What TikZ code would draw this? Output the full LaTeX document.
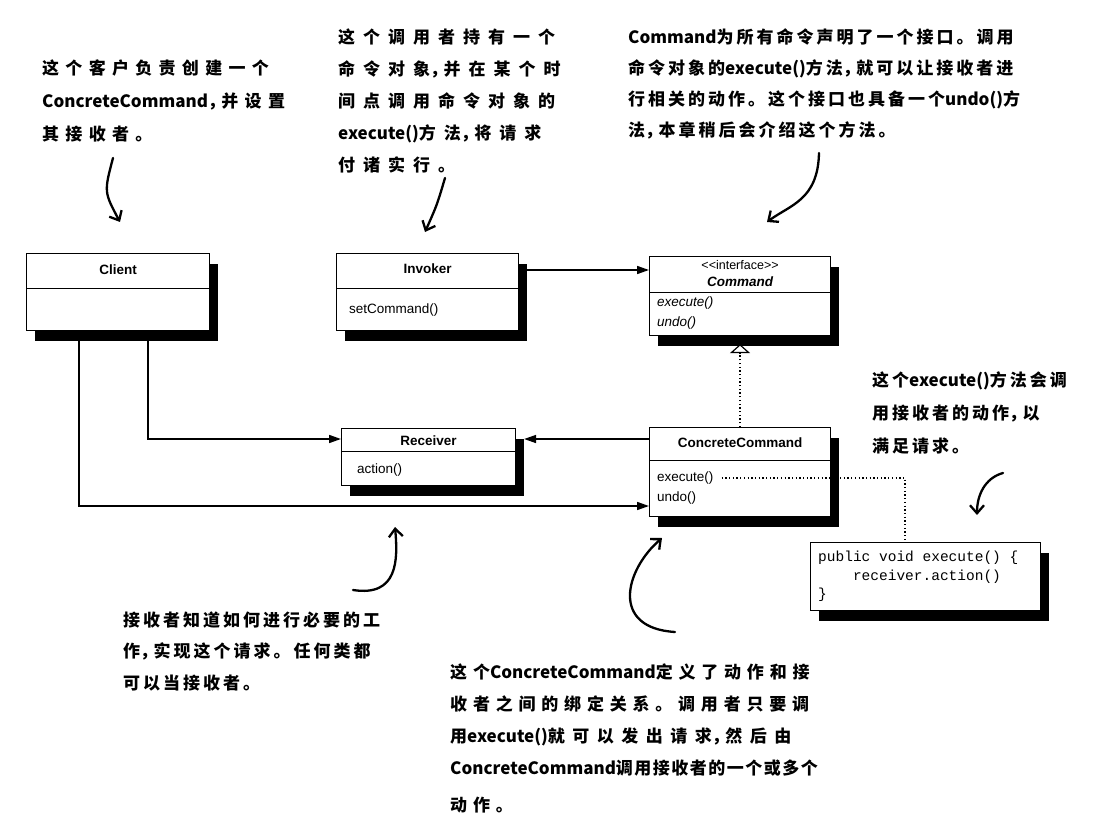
\documentclass[tikz,border=0pt]{standalone}
\usepackage{fontspec}
\newfontfamily\umlf{Liberation Sans}
\newfontfamily\codef{Liberation Mono}
\newfontfamily\cjk{Noto Sans CJK SC}
\usetikzlibrary{arrows.meta,shadows,calc}
\newlength\cjkgap
\setlength\cjkgap{0pt}
\newcount\cjkc
\cjkc="4E00
\loop
  \XeTeXcharclass\cjkc=1
  \advance\cjkc by 1
\ifnum\cjkc<"A000 \repeat
\XeTeXcharclass"FF0C=5
\XeTeXcharclass"3002=3
\XeTeXinterchartokenstate=1
\XeTeXinterchartoks 1 1 = {\kern\cjkgap}
\XeTeXinterchartoks 1 3 = {\kern\cjkgap}
\XeTeXinterchartoks 3 1 = {\kern\cjkgap}
\XeTeXinterchartoks 3 3 = {\kern\cjkgap}
\XeTeXinterchartoks 5 1 = {\kern-3.5pt}
\begin{document}
\begin{tikzpicture}[x=1pt,y=-1pt,
  box/.style={draw, line width=1.1pt, fill=white, inner sep=0pt, anchor=north west,
    drop shadow={shadow xshift=8pt, shadow yshift=-10pt, fill=black, opacity=1}},
  ttl/.style={font=\umlf\fontsize{13.5}{15}\selectfont\bfseries, inner sep=0pt},
  mth/.style={font=\umlf\fontsize{13.5}{15}\selectfont, inner sep=0pt, anchor=west},
  sep/.style={line width=0.9pt},
  conn/.style={line width=1.6pt},
  tip/.style={-{Triangle[length=12pt,width=8pt]}},
  dots/.style={line width=1.3pt, dash pattern=on 1.3pt off 2.4pt},
  note/.style={font={\cjk\bfseries\fontsize{17}{#1}\selectfont}, align=left, anchor=north west, inner sep=0pt},
  gap/.style={execute at begin node={\setlength\cjkgap{#1}}},
  hand/.style={line width=2.3pt, line cap=round, -{Straight Barb[length=8pt,width=14pt,line width=2.3pt]}},
]
\fill[white] (0,0) rectangle (1096,824);
\useasboundingbox (0,0) rectangle (1096,824);

% ---------- boxes ----------
\node[box, minimum width=183pt, minimum height=77pt] (client) at (26,253) {};
\draw[sep] ($(client.north west)+(0,35)$) -- ($(client.north east)+(0,35)$);
\node[ttl] (clientT) at ($(client.north)+(0,17)$) {Client};

\node[box, minimum width=182pt, minimum height=77pt] (invoker) at (336,253) {};
\draw[sep] ($(invoker.north west)+(0,35)$) -- ($(invoker.north east)+(0,35)$);
\node[ttl] (invokerT) at ($(invoker.north)+(0,16)$) {Invoker};
\node[mth] (invokerM) at ($(invoker.north west)+(13,57)$) {setCommand()};

\node[box, minimum width=181pt, minimum height=79pt] (command) at (649,256) {};
\draw[sep] ($(command.north west)+(0,36)$) -- ($(command.north east)+(0,36)$);
\node[inner sep=0pt, font=\umlf\fontsize{12.5}{14}\selectfont] (commandS) at ($(command.north)+(0,9)$) {<<interface>>};
\node[ttl, font=\umlf\fontsize{13.5}{15}\selectfont\bfseries\itshape] (commandT) at ($(command.north)+(0,26)$) {Command};
\node[mth, font=\umlf\fontsize{13.5}{15}\selectfont\itshape] (commandE) at ($(command.north west)+(8,47)$) {execute()};
\node[mth, font=\umlf\fontsize{13.5}{15}\selectfont\itshape] (commandU) at ($(command.north west)+(8,67)$) {undo()};

\node[box, minimum width=174pt, minimum height=57pt] (receiver) at (341,428) {};
\draw[sep] ($(receiver.north west)+(0,23)$) -- ($(receiver.north east)+(0,23)$);
\node[ttl] (receiverT) at ($(receiver.north)+(0,13)$) {Receiver};
\node[mth] (receiverM) at ($(receiver.north west)+(16,42)$) {action()};

\node[box, minimum width=181pt, minimum height=89pt] (cc) at (649,427) {};
\draw[sep] ($(cc.north west)+(0,33)$) -- ($(cc.north east)+(0,33)$);
\node[ttl] (ccT) at ($(cc.north)+(0,16)$) {ConcreteCommand};
\node[mth] (ccE) at ($(cc.north west)+(8,51)$) {execute()};
\node[mth] (ccU) at ($(cc.north west)+(8,71)$) {undo()};

\node[box, minimum width=230pt, minimum height=68pt] (code) at (810,542) {};
\node[inner sep=0pt, anchor=north west, align=left, font=\codef\fontsize{14.5}{18.5}\selectfont] (codeT) at ($(code.north west)+(8,9)$)
  {public void execute() \{\\\hphantom{xxxx}receiver.action()\\\}};

% ---------- connectors ----------
\coordinate (rcvIn) at ($(receiver.north west)+(0,11)$);
\coordinate (rcvOut) at ($(receiver.north east)+(8,11)$);
\coordinate (ccOut) at ($(cc.north west)+(0,12)$);
\coordinate (ccIn) at ($(cc.north west)+(0,79)$);
\coordinate (cliA) at ($(client.south west)+(122,0)$);
\coordinate (cliB) at ($(client.south west)+(53,0)$);
\coordinate (invOut) at ($(invoker.north east)+(0,17)$);
\coordinate (cmdIn) at ($(command.north west)+(0,14)$);
\coordinate (cmdTip) at ($(command.south)+(0,8)$);
\coordinate (exeEnd) at ($(ccE.east)+(8,0)$);
\coordinate (codeIn) at ($(code.north west)+(95,0)$);

\draw[conn,tip] (cliA) |- (rcvIn);
\draw[conn,tip] (cliB) |- (ccIn);
\draw[conn,tip] (invOut) -- (cmdIn);
\draw[conn,tip] (ccOut) -- (rcvOut);
\draw[dots,-{Triangle[open,fill=white,length=9pt,width=20pt,line width=1.2pt]}] (cc.north) -- (cmdTip);
\draw[dots] (exeEnd) -| (codeIn);

% ---------- notes ----------
\node[note=33, gap=6.3pt] (nClient) at (42,59.5) {这个客户负责创建一个\\ConcreteCommand，并设置\\其接收者。};
\node[note=32, gap=8pt] (nInvoker) at (338,28.5) {这个调用者持有一个\\命令对象，并在某个时\\间点调用命令对象的\\execute()方法，将请求\\付诸实行。};
\node[note=31, gap=3pt] (nCommand) at (628,28) {Command为所有命令声明了一个接口。调用\\命令对象的execute()方法，就可以让接收者进\\行相关的动作。这个接口也具备一个undo()方\\法，本章稍后会介绍这个方法。};
\node[note=33, gap=3pt] (nRight) at (872,371) {这个execute()方法会调\\用接收者的动作，以\\满足请求。};
\node[note=31.5, gap=3pt] (nRecv) at (123,611.5) {接收者知道如何进行必要的工\\作，实现这个请求。任何类都\\可以当接收者。};
\node[note=32, gap=5.8pt] (nCC) at (450,663.5) {这个ConcreteCommand定义了动作和接\\收者之间的绑定关系。调用者只要调\\\setlength\cjkgap{7.5pt}用execute()就可以发出请求，然后由\\\setlength\cjkgap{1.5pt}ConcreteCommand调用接收者的一个或多个\\[5pt]\setlength\cjkgap{5.8pt}动作。};

% ---------- hand arrows ----------
\coordinate (h1s) at (113,158); \coordinate (h1e) at (120,222);
\coordinate (h2s) at (445,178); \coordinate (h2e) at (425,232);
\coordinate (h3s) at (819,153); \coordinate (h3e) at (767,222);
\coordinate (h4s) at (1003,473); \coordinate (h4e) at (977,515);
\coordinate (h5s) at (353,590); \coordinate (h5e) at (395,527);
\coordinate (h6s) at (675,632); \coordinate (h6e) at (662,538);
\draw[hand] (h1s) .. controls (104,192) .. (h1e);
\draw[hand] (h2s) .. controls (437,205) .. (h2e);
\draw[hand] (h3s) .. controls (818,200) and (790,205) .. (h3e);
\draw[hand] (h4s) .. controls (985,478) and (977,495) .. (h4e);
\draw[hand] (h5s) .. controls (398,597) and (398,560) .. (h5e);
\draw[hand] (h6s) .. controls (610,628) and (625,570) .. (h6e);
\end{tikzpicture}
\end{document}
